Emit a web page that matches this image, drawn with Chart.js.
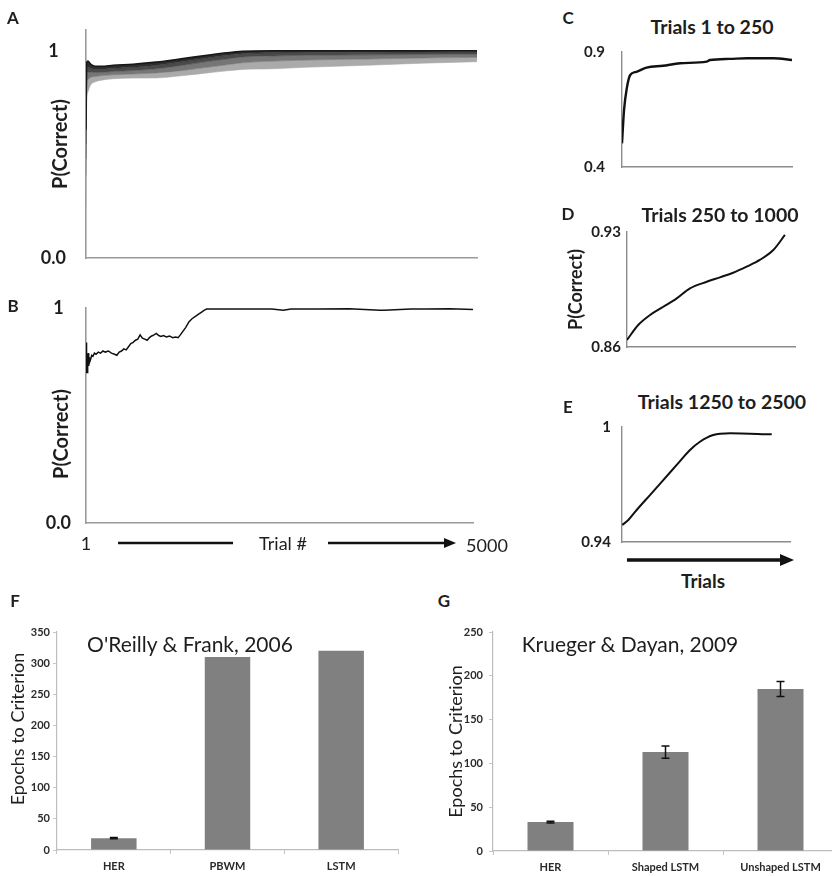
<!DOCTYPE html>
<html>
<head>
<meta charset="utf-8">
<script src="https://cdn.jsdelivr.net/npm/chart.js@4.4.0/dist/chart.umd.min.js"></script>
<style>
  html, body { margin: 0; padding: 0; background: #fff; }
  body { position: relative; width: 832px; height: 876px; overflow: hidden; font-family: Lato, "Open Sans", sans-serif; color: #1e1e1e; }
  canvas { position: absolute; }
  .t { position: absolute; transform: translate(-50%, -50%); white-space: nowrap; line-height: 1; }
  .v { transform: translate(-50%, -50%) rotate(-90deg); }
  .letter { font-weight: bold; font-size: 17px; }
  .ptitle { font-weight: bold; font-size: 19.5px; }
  .btitle { font-size: 21px; }
  svg { position: absolute; left: 0; top: 0; }
</style>
</head>
<body>

<canvas id="cA" width="520" height="280" style="left:0;top:0"></canvas>
<canvas id="cB" width="520" height="270" style="left:0;top:280px"></canvas>
<canvas id="cC" width="252" height="145" style="left:580px;top:40px"></canvas>
<canvas id="cD" width="252" height="145" style="left:565px;top:220px"></canvas>
<canvas id="cE" width="252" height="145" style="left:580px;top:415px"></canvas>
<canvas id="cF" width="420" height="261" style="left:0;top:615px"></canvas>
<canvas id="cG" width="430" height="261" style="left:410px;top:615px"></canvas>

<!-- panel letters -->
<div class="t letter" style="left:13px;top:17px">A</div>
<div class="t letter" style="left:13px;top:305px">B</div>
<div class="t letter" style="left:568px;top:17px">C</div>
<div class="t letter" style="left:568px;top:213px">D</div>
<div class="t letter" style="left:568px;top:406px">E</div>
<div class="t letter" style="left:15px;top:600px">F</div>
<div class="t letter" style="left:444px;top:600px">G</div>

<!-- panel titles -->
<div class="t ptitle" style="left:712px;top:27px">Trials 1 to 250</div>
<div class="t ptitle" style="left:720px;top:215px">Trials 250 to 1000</div>
<div class="t ptitle" style="left:722px;top:402px">Trials 1250 to 2500</div>
<div class="t btitle" style="left:190px;top:643px">O'Reilly &amp; Frank, 2006</div>
<div class="t btitle" style="left:630px;top:643px">Krueger &amp; Dayan, 2009</div>

<!-- axis titles placed off the chart centre -->
<div class="t v" style="left:60px;top:434px;font-size:20px;font-weight:bold">P(Correct)</div>
<div class="t v" style="left:17px;top:729px;font-size:18px">Epochs to Criterion</div>

<!-- B axis caption -->
<div class="t" style="left:86px;top:543px;font-size:18px">1</div>
<div class="t" style="left:283px;top:543px;font-size:18px">Trial #</div>
<div class="t" style="left:487px;top:545px;font-size:18px">5000</div>
<!-- E axis caption -->
<div class="t" style="left:703px;top:580px;font-size:19px;font-weight:bold">Trials</div>

<svg width="832" height="876">
  <line x1="118" y1="543" x2="233" y2="543" stroke="#111" stroke-width="2.6"/>
  <line x1="328" y1="543" x2="446" y2="543" stroke="#111" stroke-width="2.6"/>
  <polygon points="444,538 456,543 444,548" fill="#111"/>
  <line x1="627" y1="560" x2="782" y2="560" stroke="#111" stroke-width="3.5"/>
  <polygon points="780,554 794,560 780,566" fill="#111"/>
</svg>

<script>
/* ---------- data ---------- */
// A: envelope of the simulated learning curves (top edge down to bottom edge)
const trialsA = [1, 8, 25, 60, 120, 200, 350, 600, 900, 1240, 1550, 1800, 2000, 2400, 2800, 3600, 4300, 5000];
const bandA1 = [0.62, 0.94, 0.95, 0.935, 0.925, 0.925, 0.93, 0.935, 0.945, 0.962, 0.978, 0.99, 0.997, 1.0, 1.0, 1.0, 1.0, 1.0];
const bandA2 = [0.55, 0.90, 0.92, 0.915, 0.91, 0.91, 0.915, 0.92, 0.93, 0.948, 0.965, 0.978, 0.986, 0.99, 0.992, 0.993, 0.994, 0.995];
const bandA3 = [0.48, 0.86, 0.895, 0.897, 0.895, 0.896, 0.90, 0.905, 0.913, 0.93, 0.948, 0.96, 0.97, 0.975, 0.978, 0.98, 0.982, 0.984];
const bandA4 = [0.40, 0.81, 0.86, 0.872, 0.876, 0.88, 0.884, 0.888, 0.893, 0.905, 0.92, 0.932, 0.942, 0.95, 0.955, 0.96, 0.965, 0.968];
const bandA5 = [0.25, 0.72, 0.80, 0.835, 0.85, 0.858, 0.865, 0.868, 0.869, 0.88, 0.893, 0.903, 0.91, 0.913, 0.92, 0.93, 0.94, 0.947];

// B: a single run
const trialsB = [1, 4, 8, 12, 16, 20, 25, 30, 36, 42, 50, 60, 75, 90, 110, 130, 160, 190, 220, 250,
  290, 330, 370, 400, 430, 460, 490, 520, 550, 580, 610, 640, 670, 700, 730, 760, 790, 820, 850, 880,
  910, 940, 970, 1000, 1040, 1080, 1120, 1160, 1190, 1220, 1250, 1290, 1330, 1370, 1410, 1450, 1490, 1530, 1560, 1600,
  2000, 2400, 2550, 2650, 3000, 3400, 3800, 3850, 4200, 4400, 4700, 5000];
const valsB = [0.70, 0.84, 0.72, 0.80, 0.70, 0.78, 0.74, 0.79, 0.73, 0.77, 0.75, 0.76, 0.78, 0.775, 0.79, 0.785, 0.795, 0.79, 0.80, 0.795,
  0.80, 0.79, 0.785, 0.78, 0.795, 0.80, 0.81, 0.805, 0.82, 0.835, 0.84, 0.85, 0.855, 0.875, 0.86, 0.855, 0.85, 0.862, 0.87, 0.875,
  0.882, 0.872, 0.868, 0.872, 0.865, 0.87, 0.862, 0.865, 0.862, 0.875, 0.89, 0.91, 0.935, 0.95, 0.96, 0.97, 0.98, 0.99, 0.995, 0.995,
  0.995, 0.995, 0.99, 0.995, 0.995, 0.996, 0.99, 0.99, 0.995, 0.995, 0.996, 0.993];

// C, D, E: close-ups of the mean curve
const trialsC = [1, 4, 8, 13, 22, 37, 61, 86, 125, 130, 159, 184, 223, 250];
const valsC = [0.503, 0.648, 0.742, 0.80, 0.814, 0.832, 0.84, 0.851, 0.858, 0.865, 0.87, 0.873, 0.873, 0.865];
const trialsD = [250, 300, 353, 412, 472, 531, 606, 665, 724, 784, 843, 903, 955];
const valsD = [0.8643, 0.8734, 0.8795, 0.8845, 0.8896, 0.8957, 0.8997, 0.9024, 0.9052, 0.9089, 0.913, 0.919, 0.9282];
const trialsE = [1252, 1297, 1359, 1458, 1557, 1657, 1756, 1830, 1929, 2054, 2364];
const valsE = [0.9489, 0.9515, 0.9567, 0.9645, 0.9723, 0.9802, 0.988, 0.9923, 0.9958, 0.9967, 0.9962];

// F, G: epochs to criterion
const modelsF = ["HER", "PBWM", "LSTM"];
const epochsF = [19, 310, 320];
const errF = [1, 0, 0];
const modelsG = ["HER", "Shaped LSTM", "Unshaped LSTM"];
const epochsG = [33, 113, 185];
const errG = [1, 7, 8.5];

/* ---------- helpers ---------- */
const INK = "#1e1e1e";
const FONT = "Lato, 'Open Sans', sans-serif";
const pts = (xs, ys) => xs.map((x, i) => ({ x, y: ys[i] }));

// fixed axis boxes so every plot area lands where the figure has it
function fixY(width) {
  return s => { s.width = width; s.paddingTop = 0; s.paddingBottom = 0; };
}

function linePanel(id, c) {
  return new Chart(document.getElementById(id), {
    type: "line",
    data: { datasets: c.datasets },
    options: {
      responsive: false,
      animation: false,
      layout: { padding: { top: c.padTop, right: c.padRight, left: 0, bottom: 0 } },
      plugins: { legend: { display: false }, tooltip: { enabled: false } },
      elements: { point: { radius: 0 } },
      scales: {
        x: {
          type: "linear", min: c.xMin, max: c.xMax,
          ticks: { display: false },
          grid: { display: false, drawTicks: false },
          border: { color: c.axisColor, width: c.axisWidth },
          afterFit: s => { s.height = c.xAxisH; }
        },
        y: {
          min: c.yMin, max: c.yMax,
          grid: { display: false, drawTicks: false },
          border: { color: c.axisColor, width: c.axisWidth },
          afterBuildTicks: s => { s.ticks = c.yTicks.map(v => ({ value: v })); },
          ticks: {
            autoSkip: false,
            callback: v => c.yLabels[c.yTicks.indexOf(v)],
            font: { family: FONT, size: c.tickSize, weight: "bold" },
            color: INK, padding: c.tickPad, crossAlign: c.crossAlign || "near"
          },
          title: c.yTitle
            ? { display: true, text: c.yTitle, color: INK,
                font: { family: FONT, size: c.yTitleSize, weight: "bold" },
                padding: { top: c.yTitlePad, bottom: 0 } }
            : { display: false },
          afterFit: fixY(c.yAxisW)
        }
      }
    }
  });
}

// draws the +/- error whiskers from the error arrays through the y scale
const errorBars = {
  id: "errorBars",
  afterDatasetsDraw(chart, args, opts) {
    const { ctx } = chart;
    const y = chart.scales.y;
    const vals = chart.data.datasets[0].data;
    ctx.save();
    ctx.strokeStyle = "#111";
    ctx.lineWidth = 1.5;
    chart.getDatasetMeta(0).data.forEach((bar, i) => {
      const e = opts.errors[i];
      if (!e) return;
      const hi = y.getPixelForValue(vals[i] + e), lo = y.getPixelForValue(vals[i] - e);
      ctx.beginPath();
      ctx.moveTo(bar.x, hi); ctx.lineTo(bar.x, lo);
      ctx.moveTo(bar.x - 4, hi); ctx.lineTo(bar.x + 4, hi);
      ctx.moveTo(bar.x - 4, lo); ctx.lineTo(bar.x + 4, lo);
      ctx.stroke();
    });
    ctx.restore();
  }
};

function barPanel(id, c) {
  return new Chart(document.getElementById(id), {
    type: "bar",
    data: {
      labels: c.labels,
      datasets: [{ data: c.values, backgroundColor: "#808080", barPercentage: 0.4, categoryPercentage: 1 }]
    },
    options: {
      responsive: false,
      animation: false,
      layout: { padding: { top: c.padTop, right: c.padRight, left: 0, bottom: 0 } },
      plugins: { legend: { display: false }, tooltip: { enabled: false }, errorBars: { errors: c.errors } },
      scales: {
        x: {
          grid: { display: true, drawOnChartArea: false, tickLength: 4, color: "#c4c4c4", offset: true },
          border: { color: "#bdbdbd", width: 1.2 },
          ticks: { font: { family: FONT, size: 11, weight: "bold" }, color: "#2a2a2a", padding: 6 },
          afterFit: s => { s.height = c.xAxisH; }
        },
        y: {
          min: 0, max: c.yMax,
          grid: { display: true, drawOnChartArea: false, tickLength: 4, color: "#c8c8c8" },
          border: { color: "#bdbdbd", width: 1.2 },
          ticks: { stepSize: 50, font: { family: FONT, size: 11, weight: "bold" }, color: "#2a2a2a", padding: c.tickPad },
          title: c.yTitle
            ? { display: true, text: c.yTitle, color: INK,
                font: { family: FONT, size: 18 }, padding: { top: c.yTitlePad, bottom: 0 } }
            : { display: false },
          afterFit: fixY(c.yAxisW)
        }
      }
    },
    plugins: [errorBars]
  });
}

/* ---------- A ---------- */
const bandShades = ["#181818", "#2e2e2e", "#4a4a4a", "#767676", "#aaaaaa"];
const bandA = [bandA1, bandA2, bandA3, bandA4, bandA5];
linePanel("cA", {
  datasets: bandA.map((vals, i) => ({
    data: pts(trialsA, vals),
    borderColor: bandShades[i],
    borderWidth: i === 0 ? 1.6 : 0.6,
    backgroundColor: bandShades[i],
    fill: i === 0 ? false : "-1",
    cubicInterpolationMode: "monotone"
  })),
  padTop: 30, padRight: 43, xAxisH: 22, yAxisW: 86,
  xMin: 1, xMax: 5000, yMin: 0, yMax: 1.1,
  yTicks: [0, 1], yLabels: ["0.0", "1"],
  tickSize: 18, tickPad: 20, crossAlign: "center",
  axisColor: "#9a9a9a", axisWidth: 1.6,
  yTitle: "P(Correct)", yTitleSize: 20, yTitlePad: 49
});

/* ---------- B ---------- */
linePanel("cB", {
  datasets: [{ data: pts(trialsB, valsB), borderColor: "#111", borderWidth: 1.5, tension: 0 }],
  padTop: 28, padRight: 47, xAxisH: 27, yAxisW: 86,
  xMin: 1, xMax: 5000, yMin: 0, yMax: 1.0,
  yTicks: [0, 1], yLabels: ["0.0", "1"],
  tickSize: 18, tickPad: 15, crossAlign: "center",
  axisColor: "#9a9a9a", axisWidth: 1.6
});

/* ---------- C ---------- */
linePanel("cC", {
  datasets: [{ data: pts(trialsC, valsC), borderColor: "#111", borderWidth: 2.4, cubicInterpolationMode: "monotone" }],
  padTop: 12, padRight: 40, xAxisH: 18, yAxisW: 42,
  xMin: 1, xMax: 250, yMin: 0.4, yMax: 0.9,
  yTicks: [0.4, 0.9], yLabels: ["0.4", "0.9"],
  tickSize: 15, tickPad: 17,
  axisColor: "#8c8c8c", axisWidth: 1.4
});

/* ---------- D ---------- */
linePanel("cD", {
  datasets: [{ data: pts(trialsD, valsD), borderColor: "#111", borderWidth: 2, cubicInterpolationMode: "monotone" }],
  padTop: 12, padRight: 22, xAxisH: 18, yAxisW: 62,
  xMin: 250, xMax: 1000, yMin: 0.86, yMax: 0.93,
  yTicks: [0.86, 0.93], yLabels: ["0.86", "0.93"],
  tickSize: 15, tickPad: 6,
  axisColor: "#8c8c8c", axisWidth: 1.4,
  yTitle: "P(Correct)", yTitleSize: 18, yTitlePad: 0
});

/* ---------- E ---------- */
linePanel("cE", {
  datasets: [{ data: pts(trialsE, valsE), borderColor: "#111", borderWidth: 2, cubicInterpolationMode: "monotone" }],
  padTop: 12, padRight: 42, xAxisH: 18, yAxisW: 42,
  xMin: 1250, xMax: 2500, yMin: 0.94, yMax: 1.0,
  yTicks: [0.94, 1.0], yLabels: ["0.94", "1"],
  tickSize: 15, tickPad: 11,
  axisColor: "#8c8c8c", axisWidth: 1.4
});

/* ---------- F, G ---------- */
barPanel("cF", {
  labels: modelsF, values: epochsF, errors: errF, yMax: 350,
  padTop: 17, padRight: 22, xAxisH: 26, yAxisW: 57, tickPad: 3
});
barPanel("cG", {
  labels: modelsG, values: epochsG, errors: errG, yMax: 250,
  padTop: 17, padRight: 2, xAxisH: 25, yAxisW: 83, tickPad: 6,
  yTitle: "Epochs to Criterion", yTitlePad: 35
});
</script>
</body>
</html>
